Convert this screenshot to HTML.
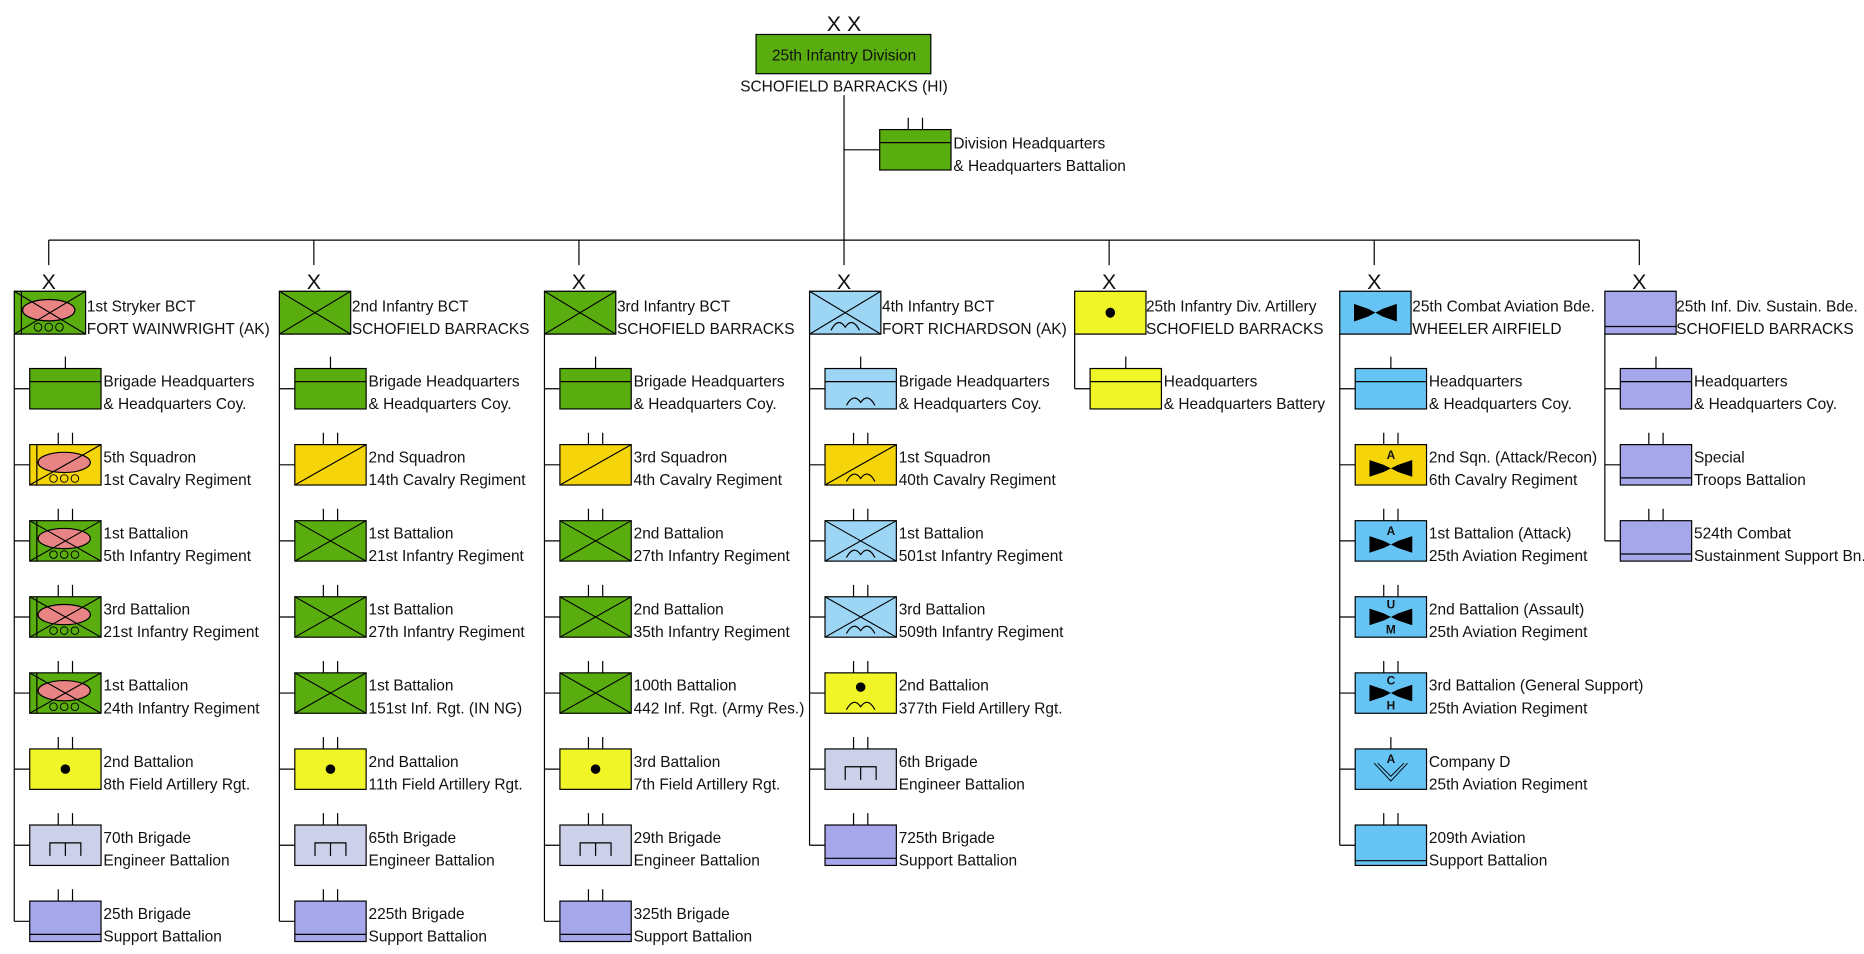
<!DOCTYPE html>
<html><head><meta charset="utf-8"><style>
html,body{margin:0;padding:0;background:#fff;}
svg{display:block;}
text{font-family:"Liberation Sans",Arial,sans-serif;font-size:13px;fill:#111;}
.x{font-size:18px;text-anchor:middle;}
.b{font-weight:bold;font-size:10px;text-anchor:middle;}
</style></head><body>
<svg width="1864" height="954" viewBox="0 0 1568 802.5" preserveAspectRatio="none" xmlns="http://www.w3.org/2000/svg">
<defs>
<g id="arc"><path d="M18,31 Q24,20 30,28.5 Q36,20 42,31" fill="none" stroke="#000" stroke-width="1"/></g>
<g id="oval"><ellipse cx="29" cy="15" rx="22" ry="8.5" fill="#e88484" stroke="#000"/><circle cx="20" cy="28.5" r="3.2" fill="none" stroke="#000" stroke-width=".8"/><circle cx="29" cy="28.5" r="3.2" fill="none" stroke="#000" stroke-width=".8"/><circle cx="38" cy="28.5" r="3.2" fill="none" stroke="#000" stroke-width=".8"/></g>
<g id="xx"><path d="M0,0 L60,34 M60,0 L0,34" stroke="#000" stroke-width=".9"/></g>
<g id="bow"><polygon points="12,10 24,14 30,17 24,20 12,24" fill="#000"/><polygon points="48,10 36,14 30,17 36,20 48,24" fill="#000"/></g>

<g id="hqG"><rect width="60" height="34" fill="#5aad0f" stroke="#000"/><line x1="0" y1="11" x2="60" y2="11" stroke="#000"/></g>
<g id="hqB"><rect width="60" height="34" fill="#9dd6f4" stroke="#000"/><line x1="0" y1="11" x2="60" y2="11" stroke="#000"/><use href="#arc"/></g>
<g id="hqA"><rect width="60" height="34" fill="#66c4f4" stroke="#000"/><line x1="0" y1="11" x2="60" y2="11" stroke="#000"/></g>
<g id="hqY"><rect width="60" height="34" fill="#f0f528" stroke="#000"/><line x1="0" y1="11" x2="60" y2="11" stroke="#000"/></g>
<g id="hqP"><rect width="60" height="34" fill="#a6a6ea" stroke="#000"/><line x1="0" y1="11" x2="60" y2="11" stroke="#000"/></g>
<g id="infG"><rect width="60" height="34" fill="#5aad0f" stroke="#000"/><use href="#xx"/></g>
<g id="infB"><rect width="60" height="34" fill="#9dd6f4" stroke="#000"/><use href="#xx"/><use href="#arc"/></g>
<g id="strG"><rect width="60" height="34" fill="#5aad0f" stroke="#000"/><use href="#oval"/><use href="#xx"/><line x1="6" y1="0" x2="6" y2="34" stroke="#000"/></g>
<g id="strY"><rect width="60" height="34" fill="#f5d40a" stroke="#000"/><use href="#oval"/><line x1="0" y1="34" x2="60" y2="0" stroke="#000"/><line x1="6" y1="0" x2="6" y2="34" stroke="#000"/></g>
<g id="cavY"><rect width="60" height="34" fill="#f5d40a" stroke="#000"/><line x1="0" y1="34" x2="60" y2="0" stroke="#000"/></g>
<g id="cavYab"><use href="#cavY"/><use href="#arc"/></g>
<g id="faY"><rect width="60" height="34" fill="#f0f528" stroke="#000"/><circle cx="30" cy="17" r="4" fill="#000"/></g>
<g id="faYab"><rect width="60" height="34" fill="#f0f528" stroke="#000"/><circle cx="30" cy="12" r="4" fill="#000"/><use href="#arc"/></g>
<g id="eng"><rect width="60" height="34" fill="#ccd0e8" stroke="#000"/><path d="M17,26 V15 H43 V26 M30,15 V26" fill="none" stroke="#000"/></g>
<g id="bsb"><rect width="60" height="34" fill="#a6a6ea" stroke="#000"/><line x1="0" y1="28" x2="60" y2="28" stroke="#000"/></g>
<g id="bsbA"><rect width="60" height="34" fill="#66c4f4" stroke="#000"/><line x1="0" y1="30" x2="60" y2="30" stroke="#000"/></g>
<g id="avB"><rect width="60" height="34" fill="#66c4f4" stroke="#000"/><use href="#bow"/></g>
<g id="avY"><rect width="60" height="34" fill="#f5d40a" stroke="#000"/><use href="#bow" transform="translate(0,3)"/></g>
<g id="avA"><rect width="60" height="34" fill="#66c4f4" stroke="#000"/><use href="#bow" transform="translate(0,3)"/></g>
<g id="avD"><rect width="60" height="34" fill="#66c4f4" stroke="#000"/><path d="M16,12 L30,27 L44,12 M19,12 L30,23 L41,12" fill="none" stroke="#000" stroke-width=".8"/></g>

<g id="t2"><path d="M24,-10 V0 M36,-10 V0" stroke="#000"/></g>
<g id="t1"><path d="M30,-10 V0" stroke="#000"/></g>
</defs>

<text x="710" y="26" class="x">X X</text>
<rect x="636" y="29" width="147" height="33" fill="#5aad0f" stroke="#000"/>
<text x="710" y="51" style="text-anchor:middle">25th Infantry Division</text>
<text x="710" y="77" style="text-anchor:middle">SCHOFIELD BARRACKS (HI)</text>
<path d="M710,80 V202 M710,126 H740 M41,202 H1379" stroke="#000" fill="none"/>
<use href="#hqG" x="740" y="109"/><use href="#t2" x="740" y="109"/>
<text x="802" y="125">Division Headquarters</text><text x="802" y="144">&amp; Headquarters Battalion</text>

<path d="M41,202V223 M264,202V223 M487,202V223 M710,202V223 M933,202V223 M1156,202V223 M1379,202V223" stroke="#000"/>
<text x="41" y="243" class="x">X</text><text x="264" y="243" class="x">X</text><text x="487" y="243" class="x">X</text><text x="710" y="243" class="x">X</text><text x="933" y="243" class="x">X</text><text x="1156" y="243" class="x">X</text><text x="1379" y="243" class="x">X</text>

<g transform="translate(12,0)">
<use href="#strG" transform="translate(0,245) scale(1,1.06)"/>
<text x="61" y="262">1st Stryker BCT</text><text x="61" y="281">FORT WAINWRIGHT (AK)</text>
<path d="M0,281 V775 M0,327H13 M0,391H13 M0,455H13 M0,519H13 M0,583H13 M0,647H13 M0,711H13 M0,775H13" stroke="#000"/>
<use href="#hqG" x="13" y="310"/><use href="#t1" x="13" y="310"/><text x="75" y="325">Brigade Headquarters</text><text x="75" y="344">&amp; Headquarters Coy.</text>
<use href="#strY" x="13" y="374"/><use href="#t2" x="13" y="374"/><text x="75" y="389">5th Squadron</text><text x="75" y="408">1st Cavalry Regiment</text>
<use href="#strG" x="13" y="438"/><use href="#t2" x="13" y="438"/><text x="75" y="453">1st Battalion</text><text x="75" y="472">5th Infantry Regiment</text>
<use href="#strG" x="13" y="502"/><use href="#t2" x="13" y="502"/><text x="75" y="517">3rd Battalion</text><text x="75" y="536">21st Infantry Regiment</text>
<use href="#strG" x="13" y="566"/><use href="#t2" x="13" y="566"/><text x="75" y="581">1st Battalion</text><text x="75" y="600">24th Infantry Regiment</text>
<use href="#faY" x="13" y="630"/><use href="#t2" x="13" y="630"/><text x="75" y="645">2nd Battalion</text><text x="75" y="664">8th Field Artillery Rgt.</text>
<use href="#eng" x="13" y="694"/><use href="#t2" x="13" y="694"/><text x="75" y="709">70th Brigade</text><text x="75" y="728">Engineer Battalion</text>
<use href="#bsb" x="13" y="758"/><use href="#t2" x="13" y="758"/><text x="75" y="773">25th Brigade</text><text x="75" y="792">Support Battalion</text>
</g>

<g transform="translate(235,0)">
<use href="#infG" transform="translate(0,245) scale(1,1.06)"/>
<text x="61" y="262">2nd Infantry BCT</text><text x="61" y="281">SCHOFIELD BARRACKS</text>
<path d="M0,281 V775 M0,327H13 M0,391H13 M0,455H13 M0,519H13 M0,583H13 M0,647H13 M0,711H13 M0,775H13" stroke="#000"/>
<use href="#hqG" x="13" y="310"/><use href="#t1" x="13" y="310"/><text x="75" y="325">Brigade Headquarters</text><text x="75" y="344">&amp; Headquarters Coy.</text>
<use href="#cavY" x="13" y="374"/><use href="#t2" x="13" y="374"/><text x="75" y="389">2nd Squadron</text><text x="75" y="408">14th Cavalry Regiment</text>
<use href="#infG" x="13" y="438"/><use href="#t2" x="13" y="438"/><text x="75" y="453">1st Battalion</text><text x="75" y="472">21st Infantry Regiment</text>
<use href="#infG" x="13" y="502"/><use href="#t2" x="13" y="502"/><text x="75" y="517">1st Battalion</text><text x="75" y="536">27th Infantry Regiment</text>
<use href="#infG" x="13" y="566"/><use href="#t2" x="13" y="566"/><text x="75" y="581">1st Battalion</text><text x="75" y="600">151st Inf. Rgt. (IN NG)</text>
<use href="#faY" x="13" y="630"/><use href="#t2" x="13" y="630"/><text x="75" y="645">2nd Battalion</text><text x="75" y="664">11th Field Artillery Rgt.</text>
<use href="#eng" x="13" y="694"/><use href="#t2" x="13" y="694"/><text x="75" y="709">65th Brigade</text><text x="75" y="728">Engineer Battalion</text>
<use href="#bsb" x="13" y="758"/><use href="#t2" x="13" y="758"/><text x="75" y="773">225th Brigade</text><text x="75" y="792">Support Battalion</text>
</g>

<g transform="translate(458,0)">
<use href="#infG" transform="translate(0,245) scale(1,1.06)"/>
<text x="61" y="262">3rd Infantry BCT</text><text x="61" y="281">SCHOFIELD BARRACKS</text>
<path d="M0,281 V775 M0,327H13 M0,391H13 M0,455H13 M0,519H13 M0,583H13 M0,647H13 M0,711H13 M0,775H13" stroke="#000"/>
<use href="#hqG" x="13" y="310"/><use href="#t1" x="13" y="310"/><text x="75" y="325">Brigade Headquarters</text><text x="75" y="344">&amp; Headquarters Coy.</text>
<use href="#cavY" x="13" y="374"/><use href="#t2" x="13" y="374"/><text x="75" y="389">3rd Squadron</text><text x="75" y="408">4th Cavalry Regiment</text>
<use href="#infG" x="13" y="438"/><use href="#t2" x="13" y="438"/><text x="75" y="453">2nd Battalion</text><text x="75" y="472">27th Infantry Regiment</text>
<use href="#infG" x="13" y="502"/><use href="#t2" x="13" y="502"/><text x="75" y="517">2nd Battalion</text><text x="75" y="536">35th Infantry Regiment</text>
<use href="#infG" x="13" y="566"/><use href="#t2" x="13" y="566"/><text x="75" y="581">100th Battalion</text><text x="75" y="600">442 Inf. Rgt. (Army Res.)</text>
<use href="#faY" x="13" y="630"/><use href="#t2" x="13" y="630"/><text x="75" y="645">3rd Battalion</text><text x="75" y="664">7th Field Artillery Rgt.</text>
<use href="#eng" x="13" y="694"/><use href="#t2" x="13" y="694"/><text x="75" y="709">29th Brigade</text><text x="75" y="728">Engineer Battalion</text>
<use href="#bsb" x="13" y="758"/><use href="#t2" x="13" y="758"/><text x="75" y="773">325th Brigade</text><text x="75" y="792">Support Battalion</text>
</g>

<g transform="translate(681,0)">
<use href="#infB" transform="translate(0,245) scale(1,1.06)"/>
<text x="61" y="262">4th Infantry BCT</text><text x="61" y="281">FORT RICHARDSON (AK)</text>
<path d="M0,281 V711 M0,327H13 M0,391H13 M0,455H13 M0,519H13 M0,583H13 M0,647H13 M0,711H13" stroke="#000"/>
<use href="#hqB" x="13" y="310"/><use href="#t1" x="13" y="310"/><text x="75" y="325">Brigade Headquarters</text><text x="75" y="344">&amp; Headquarters Coy.</text>
<use href="#cavYab" x="13" y="374"/><use href="#t2" x="13" y="374"/><text x="75" y="389">1st Squadron</text><text x="75" y="408">40th Cavalry Regiment</text>
<use href="#infB" x="13" y="438"/><use href="#t2" x="13" y="438"/><text x="75" y="453">1st Battalion</text><text x="75" y="472">501st Infantry Regiment</text>
<use href="#infB" x="13" y="502"/><use href="#t2" x="13" y="502"/><text x="75" y="517">3rd Battalion</text><text x="75" y="536">509th Infantry Regiment</text>
<use href="#faYab" x="13" y="566"/><use href="#t2" x="13" y="566"/><text x="75" y="581">2nd Battalion</text><text x="75" y="600">377th Field Artillery Rgt.</text>
<use href="#eng" x="13" y="630"/><use href="#t2" x="13" y="630"/><text x="75" y="645">6th Brigade</text><text x="75" y="664">Engineer Battalion</text>
<use href="#bsb" x="13" y="694"/><use href="#t2" x="13" y="694"/><text x="75" y="709">725th Brigade</text><text x="75" y="728">Support Battalion</text>
</g>

<g transform="translate(904,0)">
<use href="#faY" transform="translate(0,245) scale(1,1.06)"/>
<text x="60" y="262">25th Infantry Div. Artillery</text><text x="60" y="281">SCHOFIELD BARRACKS</text>
<path d="M0,281 V327 M0,327H13" stroke="#000"/>
<use href="#hqY" x="13" y="310"/><use href="#t1" x="13" y="310"/><text x="75" y="325">Headquarters</text><text x="75" y="344">&amp; Headquarters Battery</text>
</g>

<g transform="translate(1127,0)">
<use href="#avB" transform="translate(0,245) scale(1,1.06)"/>
<text x="61" y="262">25th Combat Aviation Bde.</text><text x="61" y="281">WHEELER AIRFIELD</text>
<path d="M0,281 V711 M0,327H13 M0,391H13 M0,455H13 M0,519H13 M0,583H13 M0,647H13 M0,711H13" stroke="#000"/>
<use href="#hqA" x="13" y="310"/><use href="#t1" x="13" y="310"/><text x="75" y="325">Headquarters</text><text x="75" y="344">&amp; Headquarters Coy.</text>
<use href="#avY" x="13" y="374"/><use href="#t2" x="13" y="374"/><text x="43" y="386" class="b">A</text><text x="75" y="389">2nd Sqn. (Attack/Recon)</text><text x="75" y="408">6th Cavalry Regiment</text>
<use href="#avA" x="13" y="438"/><use href="#t2" x="13" y="438"/><text x="43" y="450" class="b">A</text><text x="75" y="453">1st Battalion (Attack)</text><text x="75" y="472">25th Aviation Regiment</text>
<use href="#avB" x="13" y="502"/><use href="#t2" x="13" y="502"/><text x="43" y="512" class="b">U</text><text x="43" y="533" class="b">M</text><text x="75" y="517">2nd Battalion (Assault)</text><text x="75" y="536">25th Aviation Regiment</text>
<use href="#avB" x="13" y="566"/><use href="#t2" x="13" y="566"/><text x="43" y="576" class="b">C</text><text x="43" y="597" class="b">H</text><text x="75" y="581">3rd Battalion (General Support)</text><text x="75" y="600">25th Aviation Regiment</text>
<use href="#avD" x="13" y="630"/><use href="#t1" x="13" y="630"/><text x="43" y="642" class="b">A</text><text x="75" y="645">Company D</text><text x="75" y="664">25th Aviation Regiment</text>
<use href="#bsbA" x="13" y="694"/><use href="#t2" x="13" y="694"/><text x="75" y="709">209th Aviation</text><text x="75" y="728">Support Battalion</text>
</g>

<g transform="translate(1350,0)">
<use href="#bsb" transform="translate(0,245) scale(1,1.06)"/>
<text x="60" y="262">25th Inf. Div. Sustain. Bde.</text><text x="60" y="281">SCHOFIELD BARRACKS</text>
<path d="M0,281 V455 M0,327H13 M0,391H13 M0,455H13" stroke="#000"/>
<use href="#hqP" x="13" y="310"/><use href="#t1" x="13" y="310"/><text x="75" y="325">Headquarters</text><text x="75" y="344">&amp; Headquarters Coy.</text>
<use href="#bsb" x="13" y="374"/><use href="#t2" x="13" y="374"/><text x="75" y="389">Special</text><text x="75" y="408">Troops Battalion</text>
<use href="#bsb" x="13" y="438"/><use href="#t2" x="13" y="438"/><text x="75" y="453">524th Combat</text><text x="75" y="472">Sustainment Support Bn.</text>
</g>
</svg>
</body></html>
